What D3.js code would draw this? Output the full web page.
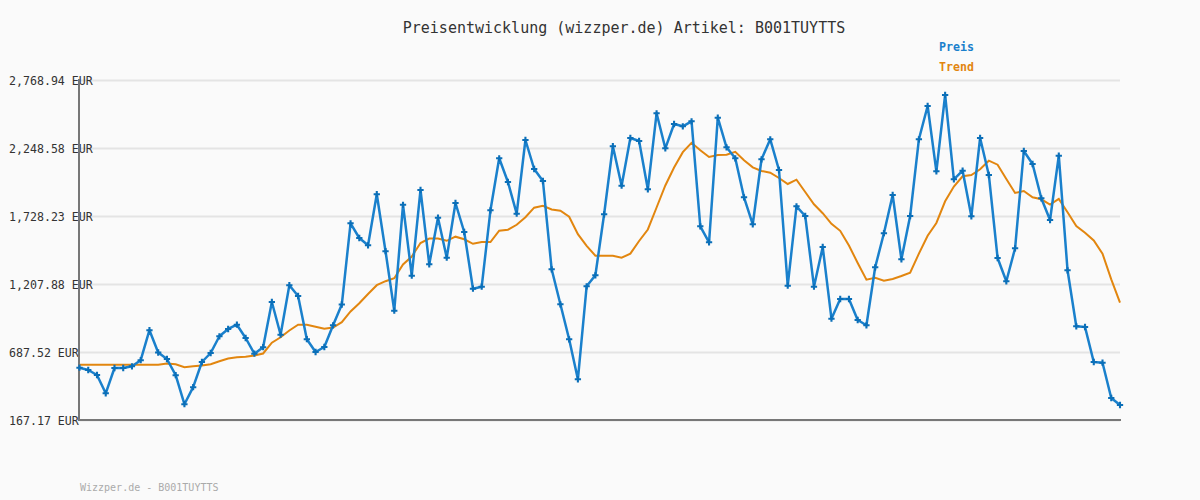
<!DOCTYPE html>
<html>
<head>
<meta charset="utf-8">
<script src="https://cdn.jsdelivr.net/npm/d3@7"></script>
<style>
  html, body { margin: 0; padding: 0; background: #fafafa; }
  svg { display: block; }
</style>
</head>
<body>
<svg id="chart" width="1200" height="500"></svg>
<script>
const titleText = "Preisentwicklung (wizzper.de) Artikel: B001TUYTTS";
const footerText = "Wizzper.de - B001TUYTTS";
const seriesNames = ["Preis", "Trend"];
const tickValues = [167.17, 687.52, 1207.88, 1728.23, 2248.58, 2768.94];

const preis = [
  567.4, 549.8, 511.5, 371.5, 565.1, 565.1, 578.1, 624.8, 854.4, 683.7,
  634.0, 510.0, 288.1, 418.2, 611.0, 679.9, 807.7, 863.6, 896.5, 794.7,
  674.5, 724.3, 1070.2, 819.9, 1198.7, 1116.1, 785.5, 687.5, 725.8, 891.9,
  1051.0, 1672.4, 1559.9, 1504.1, 1895.1, 1458.9, 1003.6, 1814.0, 1271.4, 1927.2,
  1358.7, 1715.3, 1409.2, 1827.7, 1605.8, 1171.9, 1187.3, 1771.9, 2169.8, 1988.4,
  1745.9, 2309.8, 2087.9, 1996.1, 1320.4, 1052.6, 784.7, 478.6, 1190.3, 1274.5,
  1741.3, 2262.4, 1960.1, 2325.1, 2302.2, 1932.6, 2514.2, 2246.3, 2432.3, 2414.7,
  2452.9, 1649.5, 1527.0, 2480.5, 2254.0, 2169.8, 1871.4, 1664.8, 2162.2, 2315.2,
  2080.3, 1194.9, 1802.5, 1728.3, 1187.3, 1491.0, 942.4, 1093.1, 1093.1, 932.4,
  891.9, 1335.7, 1596.7, 1889.0, 1396.9, 1728.3, 2315.2, 2570.0, 2070.3, 2654.2,
  2009.1, 2074.9, 1726.0, 2325.1, 2042.0, 1406.9, 1228.6, 1481.1, 2225.7, 2126.2,
  1863.7, 1697.7, 2189.7, 1312.7, 884.2, 878.9, 611.0, 605.7, 335.6, 282.0
];

const trend = [
  590.4, 590.4, 590.4, 590.4, 590.4, 590.4, 590.4, 590.4, 590.4, 590.4,
  599.6, 593.4, 570.5, 578.1, 584.3, 594.2, 616.4, 637.8, 647.0, 651.6,
  660.8, 676.1, 758.7, 800.0, 852.1, 896.5, 895.7, 881.2, 865.9, 875.0,
  915.6, 997.5, 1060.2, 1131.4, 1198.7, 1229.3, 1252.3, 1357.1, 1418.4, 1521.7,
  1556.1, 1556.1, 1538.5, 1569.9, 1550.0, 1515.5, 1529.3, 1529.3, 1615.8, 1623.4,
  1660.9, 1718.3, 1791.8, 1806.3, 1778.0, 1768.8, 1722.9, 1589.0, 1500.2, 1424.5,
  1424.5, 1424.5, 1409.2, 1439.8, 1537.0, 1625.0, 1793.3, 1961.7, 2099.4, 2216.5,
  2288.4, 2231.0, 2179.8, 2195.1, 2196.6, 2219.5, 2154.5, 2100.9, 2072.6, 2059.6,
  2019.1, 1973.1, 2006.0, 1911.9, 1817.8, 1749.7, 1668.6, 1615.0, 1502.5, 1368.6,
  1240.8, 1256.1, 1233.2, 1246.2, 1269.1, 1294.4, 1439.8, 1577.5, 1674.7, 1840.8,
  1954.0, 2032.1, 2042.0, 2085.6, 2151.4, 2120.8, 2011.4, 1904.3, 1919.6, 1871.4,
  1856.1, 1816.3, 1858.4, 1756.6, 1651.7, 1600.5, 1540.8, 1439.8, 1243.9, 1064.8
];

const colors = { preis: "#1a80cc", trend: "#e2860f" };
const M = { left: 79.5, right: 1120, top: 80, bottom: 420 };

const svg = d3.select("#chart");
svg.append("rect").attr("width", 1200).attr("height", 500).attr("fill", "#fafafa");

const x = d3.scaleLinear().domain([0, preis.length - 1]).range([M.left, M.right]);
const y = d3.scaleLinear().domain([tickValues[0], tickValues[tickValues.length - 1]]).range([M.bottom, M.top]);

// gridlines
const grid = svg.append("g").attr("transform", `translate(${M.left},0)`)
  .call(d3.axisLeft(y).tickValues(tickValues).tickSize(-(M.right - M.left)).tickFormat(""));
grid.select(".domain").remove();
grid.selectAll(".tick line").attr("stroke", "#e4e4e4").attr("stroke-width", 2);

// left axis labels
const fmt = d3.format(",.2f");
const yAxis = svg.append("g").attr("transform", `translate(${M.left},0)`)
  .call(d3.axisLeft(y).tickValues(tickValues).tickSize(0).tickPadding(0).tickFormat(d => fmt(d) + " EUR"));
yAxis.select(".domain").remove();
yAxis.selectAll(".tick text")
  .attr("x", -70.5)
  .attr("text-anchor", "start")
  .attr("dy", "0.35em")
  .attr("fill", "#333")
  .attr("font-family", "'DejaVu Sans Mono', monospace")
  .attr("font-size", "11.6px");

// axis lines
svg.append("line").attr("x1", M.left - 0.5).attr("x2", M.left - 0.5).attr("y1", M.top - 1).attr("y2", M.bottom + 1)
  .attr("stroke", "#777").attr("stroke-width", 2);
svg.append("line").attr("x1", M.left - 1.5).attr("x2", M.right + 1).attr("y1", M.bottom).attr("y2", M.bottom)
  .attr("stroke", "#777").attr("stroke-width", 2);

// trend line
const line = d3.line().x((d, i) => x(i)).y(d => y(d));
svg.append("path").datum(trend).attr("d", line)
  .attr("fill", "none").attr("stroke", colors.trend).attr("stroke-width", 2);

// price line
svg.append("path").datum(preis).attr("d", line)
  .attr("fill", "none").attr("stroke", colors.preis).attr("stroke-width", 2.5)
  .attr("stroke-linejoin", "round");

// markers
const sym = d3.symbol().type(d3.symbolCross).size(22);
svg.append("g").selectAll("path").data(preis).join("path")
  .attr("transform", (d, i) => `translate(${x(i)},${y(d)})`)
  .attr("d", sym)
  .attr("fill", "#0b6fb8");

// title
svg.append("text").attr("x", 624).attr("y", 33).attr("text-anchor", "middle")
  .attr("font-family", "'DejaVu Sans Mono', monospace").attr("font-size", "15px")
  .attr("fill", "#333").text(titleText);

// legend
svg.append("text").attr("x", 939).attr("y", 51)
  .attr("font-family", "'DejaVu Sans Mono', monospace").attr("font-size", "11.6px").attr("font-weight", "bold")
  .attr("fill", colors.preis).text(seriesNames[0]);
svg.append("text").attr("x", 939).attr("y", 71)
  .attr("font-family", "'DejaVu Sans Mono', monospace").attr("font-size", "11.6px").attr("font-weight", "bold")
  .attr("fill", colors.trend).text(seriesNames[1]);

// footer
svg.append("text").attr("x", 80).attr("y", 491)
  .attr("font-family", "'DejaVu Sans Mono', monospace").attr("font-size", "10px")
  .attr("fill", "#aaa").text(footerText);
</script>
</body>
</html>
